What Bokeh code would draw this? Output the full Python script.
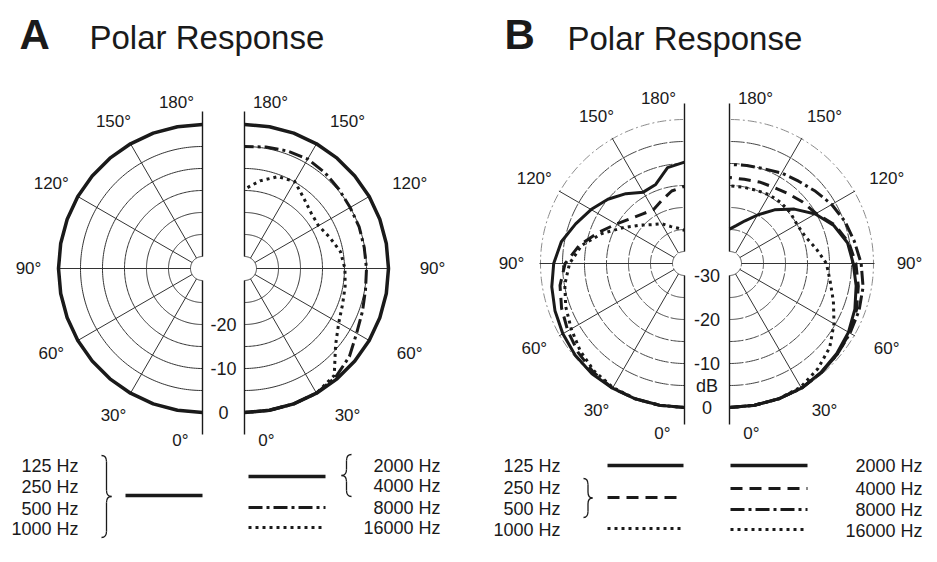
import numpy as np
from bokeh.plotting import figure
from bokeh.models import Range1d
from bokeh.core.properties import value
from bokeh.embed import file_html
from bokeh.resources import INLINE

# ---------------- data (dB relative to on-axis, angle 0 = front) ----------------
angles = [0, 10, 20, 30, 40, 50, 60, 70, 80, 90, 100, 110, 120, 130, 140, 150, 160, 170, 180]

# Panel A
a_125_1000 = [0, 0, 0, 0, 0, 0, 0, 0, 0, 0, 0, 0, 0, 0, 0, 0, 0, 0, 0]
a_2000_4000 = [0, 0, 0, 0, 0, 0, 0, 0, 0, 0, 0, 0, 0, 0, 0, 0, 0, 0, 0]
a_8000 = [0, 0, 0, 0, -0.5, -1.6, -3.3, -4.2, -4.8, -5.0, -5.1, -5.0, -5.0, -4.7, -4.3, -4.0, -4.3, -4.7, -5.0]
a_16000 = [0, 0, 0, 0, -1.0, -5.7, -8.0, -9.0, -9.5, -9.9, -10.6, -12.1, -13.3, -13.0, -11.8, -9.9, -10.5, -12.5, -14.7]

# Panel B
b_125 = [0, 0, 0, 0, 0, -0.3, -0.8, -1.4, -2.1, -3.0, -4.3, -6.4, -8.2, -10.0, -12.0, -14.0, -13.6, -10.6, -9.7]
b_250_500 = [0, 0, 0, 0, -0.5, -1.2, -2.1, -3.0, -4.0, -5.6, -8.5, -12.0, -14.8, -16.8, -18.0, -18.6, -17.5, -16.0, -15.2]
b_1000 = [0, 0, 0, -0.2, -0.8, -1.8, -3.0, -4.0, -5.1, -6.6, -9.0, -12.8, -16.5, -19.2, -21.2, -22.3, -23.8, -24.6, -25.2]
b_2000 = [0, 0, 0, 0, -0.4, -0.9, -1.5, -2.4, -3.5, -4.6, -5.5, -7.5, -10.2, -13.5, -16.8, -20.0, -22.4, -24.0, -24.9]
b_4000 = [0, 0, 0, 0, -0.3, -0.7, -1.2, -2.0, -3.0, -4.0, -5.2, -7.2, -10.0, -11.0, -12.0, -12.7, -13.0, -13.3, -13.2]
b_8000 = [0, 0, 0, 0, -0.3, -0.7, -1.1, -1.4, -1.9, -2.8, -3.9, -4.8, -5.9, -7.2, -8.3, -9.0, -9.8, -10.1, -10.2]
b_16000 = [0, 0, 0, -0.3, -1.5, -3.0, -5.3, -7.6, -9.5, -10.7, -12.8, -14.5, -15.0, -14.7, -14.6, -14.7, -15.0, -15.1, -15.1]

ring_db = [-30, -25, -20, -15, -10, -5, 0]
spoke_angles = [30, 60, 90, 120, 150]
angle_labels = [0, 30, 60, 90, 120, 150, 180]
db_labels_a = [-20, -10, 0]
db_labels_b = [-30, -20, -10, 0]
left_freqs_a = ["125 Hz", "250 Hz", "500 Hz", "1000 Hz"]
right_freqs_a = ["2000 Hz", "4000 Hz", "8000 Hz", "16000 Hz"]
left_freqs_b = ["125 Hz", "250 Hz", "500 Hz", "1000 Hz"]
right_freqs_b = ["2000 Hz", "4000 Hz", "8000 Hz", "16000 Hz"]

# ---------------- styling / layout ----------------
FONT = value("Liberation Sans")
INK = "#1a1a1a"
GRID = "#333333"
R_IN, R_OUT, DB_MIN = 12.0, 144.0, -30.0

SOLID = "solid"
DASHED = "12 7"
DASHDOT = "14 4 3 4"
DOTTED = "3 4"
LABEL_SIZE = "18px"


def db_to_r(db):
    db = np.asarray(db, dtype=float)
    return R_IN + (db - DB_MIN) / (0 - DB_MIN) * (R_OUT - R_IN)


def pxy(cx, cy, side, ang, r):
    t = np.radians(np.asarray(ang, dtype=float))
    return cx + side * r * np.sin(t), cy + r * np.cos(t)


p = figure(width=929, height=554, x_range=Range1d(0, 929), y_range=Range1d(554, 0),
           x_axis_type=None, y_axis_type=None, toolbar_location=None,
           output_backend="svg", min_border=0, outline_line_color=None,
           background_fill_color="white", border_fill_color="white")


def draw_grid(cx, cy, side, dashed_rings, top, bottom):
    t = np.linspace(0, 180, 181)
    for db in ring_db:
        x, y = pxy(cx, cy, side, t, db_to_r(db))
        if dashed_rings:
            if db == 0:
                p.line(x, y, line_color="#8a8a8a", line_width=1, line_dash="9 3 2 3")
            else:
                p.line(x, y, line_color="#444444", line_width=1, line_dash="14 2")
        else:
            p.line(x, y, line_color=GRID, line_width=1)
    x0, y0 = pxy(cx, cy, side, spoke_angles, R_IN)
    x1, y1 = pxy(cx, cy, side, spoke_angles, R_OUT + 1)
    p.segment(x0, y0, x1, y1, line_color=GRID, line_width=1)
    # vertical 0-180 axis, interrupted by the centre hole
    p.segment([cx, cx], [cy - R_IN, cy + R_IN], [cx, cx], [cy - top, cy + bottom],
              line_color=INK, line_width=1.4)


def draw_curve(cx, cy, side, vals, dash, width=3):
    x, y = pxy(cx, cy, side, angles, db_to_r(vals))
    p.line(x, y, line_color=INK, line_width=width, line_dash=dash, line_join="round")


def angle_texts(cx, cy, side, pad, y180, y0):
    xs, ys, ts = [], [], []
    for a in angle_labels:
        if a == 180:
            xs.append(cx + side * 26); ys.append(cy - y180)
        elif a == 0:
            xs.append(cx + side * 22); ys.append(cy + y0)
        else:
            t = np.radians(a)
            xs.append(cx + side * (170 * np.sin(t) + pad)); ys.append(cy + 170 * np.cos(t))
        ts.append(f"{a}°")
    p.text(xs, ys, ts, text_font=FONT, text_font_size="17px", text_color=INK,
           text_align="center", text_baseline="middle")


def brace(x, y0, y1, w, side):
    ym = (y0 + y1) / 2.0
    q = 6
    xs = x + side * w / 2.0
    xt = x + side * w
    p.quadratic(x0=[x, xs, xt, xs], y0=[y0, ym - q, ym, y1 - q],
                x1=[xs, xt, xs, x], y1=[y0 + q, ym, ym + q, y1],
                cx=[xs, xs, xs, xs], cy=[y0, ym, ym, y1],
                line_color=INK, line_width=1.3)
    p.segment([xs, xs], [y0 + q, ym + q], [xs, xs], [ym - q, y1 - q],
              line_color=INK, line_width=1.3)


def title(letter_x, text_x, letter_y, text_y, letter):
    p.text([letter_x], [letter_y], [letter], text_font=FONT, text_font_size="42px",
           text_font_style="bold", text_color=INK, text_baseline="middle")
    p.text([text_x], [text_y], ["Polar Response"], text_font=FONT, text_font_size="33px",
           text_color=INK, text_baseline="middle")


# ---------------- Panel A ----------------
AL, AR, AY = 202, 244, 268
draw_grid(AL, AY, -1, False, 157, 166)
draw_grid(AR, AY, +1, False, 157, 166)
draw_curve(AL, AY, -1, a_125_1000, SOLID, 3.5)
draw_curve(AR, AY, +1, a_2000_4000, SOLID, 3.5)
draw_curve(AR, AY, +1, a_8000, DASHDOT, 3)
draw_curve(AR, AY, +1, a_16000, DOTTED, 3)
angle_texts(AL, AY, -1, 4, 166, 172)
angle_texts(AR, AY, +1, 18, 166, 172)
p.text([(AL + AR) / 2] * 3, list(AY + db_to_r(db_labels_a)), [str(v) for v in db_labels_a],
       text_font=FONT, text_font_size=LABEL_SIZE, text_color=INK, text_align="center", text_baseline="middle")

title(19, 89, 34, 37, "A")

# legend A
p.text([78] * 4, [465, 486, 508, 528], left_freqs_a, text_font=FONT, text_font_size=LABEL_SIZE,
       text_color=INK, text_align="right", text_baseline="middle")
p.text([440] * 4, [465, 485, 507, 527], right_freqs_a, text_font=FONT, text_font_size=LABEL_SIZE,
       text_color=INK, text_align="right", text_baseline="middle")
brace(101, 455, 537, 10, +1)
brace(351, 454, 496, 10, -1)
p.line([125, 202], [495, 495], line_color=INK, line_width=3.5)
p.line([248, 325], [476, 476], line_color=INK, line_width=3.5)
p.line([248, 325], [507, 507], line_color=INK, line_width=3, line_dash=DASHDOT)
p.line([248, 325], [527, 527], line_color=INK, line_width=3, line_dash=DOTTED)

# ---------------- Panel B ----------------
BL, BR, BY = 684, 729, 263
draw_grid(BL, BY, -1, True, 160, 161)
draw_grid(BR, BY, +1, True, 160, 161)
draw_curve(BL, BY, -1, b_125, SOLID, 3)
draw_curve(BL, BY, -1, b_250_500, DASHED, 3)
draw_curve(BL, BY, -1, b_1000, DOTTED, 3)
draw_curve(BR, BY, +1, b_2000, SOLID, 3)
draw_curve(BR, BY, +1, b_4000, DASHED, 3)
draw_curve(BR, BY, +1, b_8000, DASHDOT, 3)
draw_curve(BR, BY, +1, b_16000, DOTTED, 3)
angle_texts(BL, BY, -1, 3, 165, 170)
angle_texts(BR, BY, +1, 10, 165, 170)
bx = (BL + BR) / 2
p.text([bx] * 4, list(BY + db_to_r(db_labels_b)), [str(v) for v in db_labels_b],
       text_font=FONT, text_font_size=LABEL_SIZE, text_color=INK, text_align="center", text_baseline="middle")
p.text([bx], [BY + (db_to_r(-10) + db_to_r(0)) / 2], ["dB"], text_font=FONT, text_font_size=LABEL_SIZE,
       text_color=INK, text_align="center", text_baseline="middle")

title(504, 567, 34, 38, "B")

# legend B
p.text([560] * 4, [465, 487, 508, 529], left_freqs_b, text_font=FONT, text_font_size=LABEL_SIZE,
       text_color=INK, text_align="right", text_baseline="middle")
p.text([922] * 4, [465, 488, 509, 530], right_freqs_b, text_font=FONT, text_font_size=LABEL_SIZE,
       text_color=INK, text_align="right", text_baseline="middle")
brace(583, 478, 517, 9, +1)
p.line([607, 683], [465, 465], line_color=INK, line_width=3.5)
p.line([607, 683], [497, 497], line_color=INK, line_width=3, line_dash=DASHED)
p.line([607, 683], [528, 528], line_color=INK, line_width=3, line_dash=DOTTED)
p.line([730, 807], [465, 465], line_color=INK, line_width=3.5)
p.line([730, 807], [488, 488], line_color=INK, line_width=3, line_dash=DASHED)
p.line([730, 807], [509, 509], line_color=INK, line_width=3, line_dash=DASHDOT)
p.line([730, 807], [529, 529], line_color=INK, line_width=3, line_dash=DOTTED)

open("out.html", "w").write(file_html(p, INLINE))
